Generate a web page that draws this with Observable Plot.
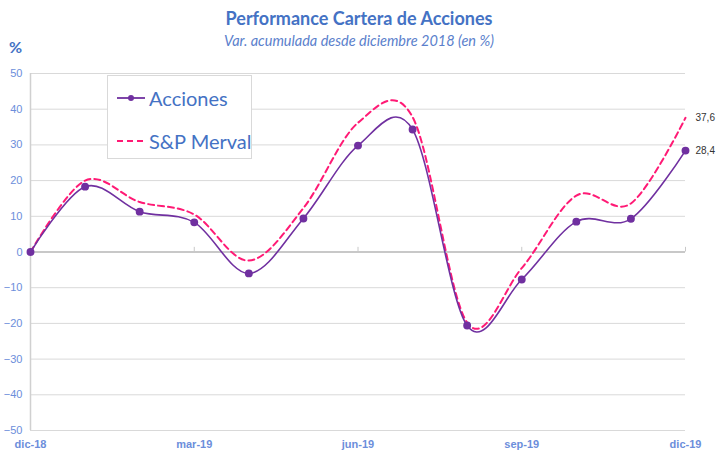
<!DOCTYPE html>
<html>
<head>
<meta charset="utf-8">
<script src="https://cdn.jsdelivr.net/npm/d3@7"></script>
<script src="https://cdn.jsdelivr.net/npm/@observablehq/plot@0.6"></script>
<style>
  html, body { margin: 0; padding: 0; background: #fff; }
  #wrap { position: relative; width: 718px; height: 455px; overflow: hidden; font-family: Lato, "Open Sans", sans-serif; }
  #wrap svg.plot { position: absolute; left: 0; top: 0; }
  .title { position: absolute; left: 0; width: 718px; text-align: center; color: #4472C4; }
  #t1 { top: 7px; font-size: 18px; font-weight: bold; }
  #t2 { top: 32px; font-size: 14.5px; font-style: italic; color: #5b7fcc; }
  #pct { position: absolute; left: 9px; top: 37px; font-size: 16px; font-weight: bold; color: #4472C4; }
  #legend { position: absolute; left: 107px; top: 75px; width: 145px; height: 84px; border: 1px solid #d9d9d9; background: #fff; box-sizing: border-box; }
  .lg { position: absolute; left: 8px; height: 24px; display: flex; align-items: center; font-size: 20px; color: #4472C4; white-space: nowrap; }
  .lg svg { margin-right: 3px; }
</style>
</head>
<body>
<div id="wrap">
  <div class="title" id="t1">Performance Cartera de Acciones</div>
  <div class="title" id="t2">Var. acumulada desde diciembre 2018 (en %)</div>
  <div id="pct">%</div>
</div>
<script>
const months = ["dic-18","ene-19","feb-19","mar-19","abr-19","may-19","jun-19","jul-19","ago-19","sep-19","oct-19","nov-19","dic-19"];
const acciones = [0, 18.3, 11.3, 8.3, -6.0, 9.4, 29.8, 34.3, -20.6, -7.7, 8.5, 9.3, 28.4];
const merval = [0, 20.0, 14.0, 10.5, -2.4, 12.3, 36.2, 37.8, -19.8, -4.5, 15.8, 13.6, 37.6];
const xTickLabels = ["dic-18","mar-19","jun-19","sep-19","dic-19"];
const yTicks = [-50,-40,-30,-20,-10,0,10,20,30,40,50];
const seriesNames = ["Acciones","S&P Merval"];

const colAcc = "#7030A0";
const colMer = "#FF1A75";
const tickBlue = "#6C8EDB";

const accData = months.map((m, i) => ({m, v: acciones[i]}));
const merData = months.map((m, i) => ({m, v: merval[i]}));
const fmt = v => v.toFixed(1).replace(".", ",");

const chart = Plot.plot({
  width: 718,
  height: 455,
  marginLeft: 30,
  marginRight: 33,
  marginTop: 73,
  marginBottom: 25,
  style: {fontFamily: "Arial, 'Liberation Sans', sans-serif", background: "transparent"},
  x: {type: "point", domain: months, padding: 0, round: false, label: null},
  y: {domain: [-50, 50], label: null},
  marks: [
    Plot.gridY(yTicks, {stroke: "#d9d9d9", strokeOpacity: 1, strokeWidth: 1}),
    Plot.ruleX([months[0]], {y1: -50, y2: 50, stroke: "#d0d0d0", strokeWidth: 1.5}),
    Plot.ruleY([0], {stroke: "#c8c8c8", strokeWidth: 2}),
    Plot.ruleX(xTickLabels.slice(1), {y1: 0, y2: 1.3, stroke: "#c8c8c8"}),
    Plot.axisY(yTicks, {tickSize: 0, tickPadding: 8, fill: tickBlue, fontSize: 11, label: null}),
    Plot.axisX(xTickLabels, {tickSize: 0, tickPadding: 10, fill: tickBlue, fontSize: 11, fontWeight: "bold", label: null}),
    Plot.line(merData, {x: "m", y: "v", stroke: colMer, strokeWidth: 2, strokeDasharray: "6,4", curve: "cardinal"}),
    Plot.line(accData, {x: "m", y: "v", stroke: colAcc, strokeWidth: 1.6, curve: "cardinal"}),
    Plot.dot(accData, {x: "m", y: "v", r: 3.2, fill: colAcc, stroke: colAcc}),
    Plot.text([merData[merData.length - 1], accData[accData.length - 1]], {x: "m", y: "v", text: d => fmt(d.v), dx: 10, textAnchor: "start", fill: "#333", fontSize: 10})
  ]
});
chart.classList.add("plot");
const wrap = document.getElementById("wrap");
wrap.insertBefore(chart, wrap.firstChild);

const legend = document.createElement("div");
legend.id = "legend";
legend.innerHTML =
  `<div class="lg" style="top:10px"><svg width="30" height="10"><line x1="1" y1="5" x2="29" y2="5" stroke="${colAcc}" stroke-width="1.8"/><circle cx="15" cy="5" r="3" fill="${colAcc}"/></svg>${seriesNames[0]}</div>` +
  `<div class="lg" style="top:53px"><svg width="30" height="10"><line x1="1" y1="5" x2="29" y2="5" stroke="${colMer}" stroke-width="2" stroke-dasharray="6,4"/></svg>${seriesNames[1]}</div>`;
wrap.appendChild(legend);
</script>
</body>
</html>
